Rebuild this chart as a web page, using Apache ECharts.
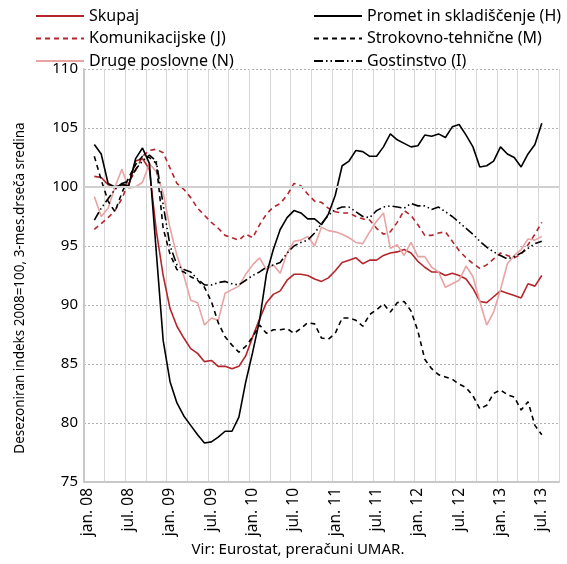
<!DOCTYPE html>
<html>
<head>
<meta charset="utf-8">
<script src="https://cdn.jsdelivr.net/npm/echarts@6/dist/echarts.min.js"></script>
<style>
	html, body { margin: 0; padding: 0; background: #fff; }
	#chart { width: 567px; height: 564px; }
</style>
</head>
<body>
<div id="chart"></div>
<script>
// mesečne kategorije jan.08 - sep.13
const monthNames = [ "jan.", "feb.", "mar.", "apr.", "maj", "jun.", "jul.", "avg.", "sep.", "okt.", "nov.", "dec." ];
const years = [ "08", "09", "10", "11", "12", "13" ];
const categories = [];
for ( const y of years ) {
	for ( const m of monthNames ) categories.push( m + " " + y );
}
categories.length = 69;

// podatki od feb.08 do jul.13 (prvi mesec prazen)
const skupaj = [ null,
	100.9, 100.8, 100.2, 99.9, 100.2, 100.2, 102.2, 102.4, 101.5, 96.3, 92.5,
	89.7, 88.2, 87.2, 86.3, 85.9, 85.2, 85.3, 84.8, 84.8, 84.6, 84.8, 85.7,
	87.3, 88.8, 90.2, 90.9, 91.2, 92.1, 92.6, 92.6, 92.5, 92.2, 92.0, 92.3,
	92.9, 93.6, 93.8, 94.0, 93.5, 93.8, 93.8, 94.2, 94.4, 94.5, 94.7, 94.4,
	93.7, 93.2, 92.8, 92.8, 92.5, 92.7, 92.5, 92.2, 91.4, 90.3, 90.2, 90.7,
	91.2, 91.0, 90.8, 90.6, 91.8, 91.6, 92.5 ];
const komunikacijske = [ null,
	96.4, 96.9, 97.4, 98.0, 99.0, 100.4, 101.4, 102.6, 103.1, 103.2, 102.9,
	101.6, 100.3, 99.8, 99.1, 98.2, 97.6, 97.0, 96.5, 95.9, 95.7, 95.5, 96.0,
	95.7, 96.8, 97.7, 98.3, 98.6, 99.3, 100.3, 100.1, 99.4, 98.8, 98.7, 98.2,
	97.9, 97.8, 97.8, 97.5, 97.3, 97.2, 96.5, 96.0, 96.2, 97.0, 98.0, 97.6,
	96.8, 95.9, 95.9, 96.1, 96.2, 95.4, 94.6, 94.0, 93.5, 93.1, 93.4, 93.9,
	94.4, 94.2, 94.0, 94.3, 95.1, 96.0, 97.0 ];
const drugePoslovne = [ null,
	99.2, 97.5, 98.2, 100.0, 101.5, 99.9, 100.0, 100.4, 102.0, 101.3, 99.5,
	96.5, 94.2, 92.5, 90.4, 90.2, 88.3, 88.9, 88.7, 91.0, 91.3, 91.6, 92.6,
	93.4, 94.0, 93.0, 93.4, 92.7, 94.4, 95.4, 95.5, 95.8, 95.0, 96.6, 96.3,
	96.2, 96.0, 95.7, 95.3, 95.2, 96.2, 97.1, 97.8, 94.8, 95.1, 94.2, 95.3,
	94.1, 94.1, 93.2, 92.8, 91.5, 91.8, 92.1, 93.3, 92.4, 90.3, 88.3, 89.4,
	91.3, 93.5, 94.2, 94.7, 95.6, 95.5, 95.8 ];
const promet = [ null,
	103.6, 102.8, 100.3, 100.0, 100.2, 100.1, 102.4, 103.3, 102.0, 94.5, 87.0,
	83.5, 81.7, 80.6, 79.8, 79.0, 78.3, 78.4, 78.8, 79.3, 79.3, 80.5, 83.5,
	86.0, 88.7, 92.6, 94.7, 96.4, 97.4, 98.0, 97.8, 97.3, 97.3, 96.8, 97.7,
	99.3, 101.8, 102.2, 103.1, 103.0, 102.6, 102.6, 103.4, 104.5, 104.0, 103.7, 103.4,
	103.5, 104.4, 104.3, 104.5, 104.2, 105.1, 105.3, 104.4, 103.4, 101.7, 101.8, 102.2,
	103.4, 102.8, 102.5, 101.7, 102.8, 103.6, 105.4 ];
const strokovno = [ null,
	102.6, 100.6, 98.8, 97.9, 99.5, 100.8, 101.9, 102.6, 102.5, 102.0, 96.5,
	94.3, 93.0, 92.8, 92.4, 92.1, 91.5, 90.3, 88.5, 87.3, 86.6, 86.0, 86.5,
	87.3, 88.3, 87.6, 87.9, 87.9, 88.0, 87.6, 88.0, 88.5, 88.4, 87.2, 87.1,
	87.6, 88.9, 88.9, 88.7, 88.2, 89.2, 89.6, 90.1, 89.4, 90.2, 90.3, 89.5,
	87.8, 85.4, 84.6, 84.1, 83.9, 83.7, 83.3, 83.0, 82.3, 81.2, 81.5, 82.5,
	82.8, 82.4, 82.2, 81.1, 81.8, 79.8, 79.0 ];
const gostinstvo = [ null,
	97.2, 98.2, 99.0, 99.8, 100.3, 100.5, 101.5, 102.2, 102.7, 102.2, 98.5,
	95.0, 93.4, 93.0, 92.8, 92.2, 91.7, 91.7, 91.9, 92.0, 91.8, 91.7, 92.1,
	92.5, 92.8, 93.2, 93.4, 93.6, 94.4, 95.0, 95.3, 95.5, 96.1, 96.9, 97.6,
	98.1, 98.3, 98.3, 97.9, 97.5, 97.4, 98.0, 98.3, 98.4, 98.3, 98.2, 98.6,
	98.4, 98.4, 98.1, 98.3, 97.9, 97.5, 97.0, 96.5, 96.0, 95.4, 94.9, 94.5,
	94.2, 93.9, 94.1, 94.4, 94.8, 95.2, 95.4 ];

const FONT = "Noto Sans";
const RED = "#B5252C";
const PINK = "#E8A3A3";
const GRID = "#b0b0b0";

function line( name, data, color, type ) {
	return {
		name, type: "line", data,
		symbol: "none",
		lineStyle: { color, width: 1.6, type },
		itemStyle: { color }
	};
}

const chart = echarts.init( document.getElementById( "chart" ) );

const legendBase = {
	orient: "vertical",
	itemWidth: 48,
	itemHeight: 14,
	itemGap: 6.5,
	itemStyle: { opacity: 0 },
	textStyle: { fontFamily: FONT, fontSize: 16, color: "#000" },
	selectedMode: false
};

chart.setOption( {
	animation: false,
	grid: { left: 84, right: 8, top: 69, bottom: 82 },
	legend: [
		Object.assign( {}, legendBase, { left: 30, top: 3, data: [ "Skupaj", "Komunikacijske (J)", "Druge poslovne (N)" ] } ),
		Object.assign( {}, legendBase, { left: 308, top: 3, data: [ "Promet in skladiščenje (H)", "Strokovno-tehnične (M)", "Gostinstvo (I)" ] } )
	],
	xAxis: {
		type: "category",
		data: categories,
		boundaryGap: true,
		axisLine: { lineStyle: { color: "#c8c8c8", width: 2 } },
		axisTick: { show: true, interval: 2, length: 4, lineStyle: { opacity: 0 } },
		axisLabel: { interval: 5, rotate: 90, fontFamily: FONT, fontSize: 15.5, color: "#000", margin: 6, padding: [ 8, 0, 0, 0 ] },
		splitLine: { show: true, interval: 2, lineStyle: { color: "#d6d6d6", type: "solid", width: 1 } }
	},
	yAxis: {
		type: "value",
		min: 75, max: 110, interval: 5,
		axisLine: { show: true, lineStyle: { color: "#c8c8c8", width: 2 } },
		axisTick: { show: false },
		axisLabel: { fontFamily: FONT, fontSize: 15, color: "#000", margin: 6 },
		splitLine: { lineStyle: { color: GRID, type: [ 2, 2 ], width: 1 } }
	},
	graphic: [ {
		type: "text",
		x: 298, y: 550,
		style: { text: "Vir: Eurostat, preračuni UMAR.", font: "15px " + FONT, fill: "#000", align: "center", verticalAlign: "middle" }
	}, {
		type: "text",
		x: 20, y: 288,
		rotation: Math.PI / 2,
		style: { text: "Desezoniran indeks 2008=100, 3-mes.drseča sredina", font: "13.5px " + FONT, fill: "#000", align: "center", verticalAlign: "middle" }
	} ],
	series: [
		Object.assign( line( "Skupaj", skupaj, RED, "solid" ), {
			markLine: {
				silent: true, symbol: "none", label: { show: false },
				lineStyle: { color: "#d0d0d0", width: 2, type: "solid" },
				data: [ { yAxis: 100 } ]
			}
		} ),
		line( "Komunikacijske (J)", komunikacijske, RED, [ 5, 4 ] ),
		line( "Druge poslovne (N)", drugePoslovne, PINK, "solid" ),
		line( "Promet in skladiščenje (H)", promet, "#000", "solid" ),
		line( "Strokovno-tehnične (M)", strokovno, "#000", [ 5, 4 ] ),
		line( "Gostinstvo (I)", gostinstvo, "#000", [ 9, 3, 1.5, 3, 1.5, 3 ] )
	]
} );
</script>
</body>
</html>
